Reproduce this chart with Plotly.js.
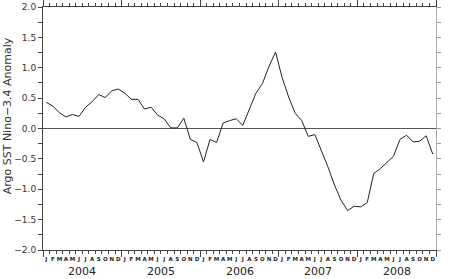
<!DOCTYPE html>
<html>
<head>
<meta charset="utf-8">
<script src="https://cdn.plot.ly/plotly-3.0.1.min.js"></script>
<style>
  html, body { margin: 0; padding: 0; background: #fff; }
  #chart { width: 450px; height: 279px; }
</style>
</head>
<body>
<div id="chart"></div>
<script>
// Monthly Argo SST Nino-3.4 anomaly, Jan 2004 – Dec 2008
const years = ["2004", "2005", "2006", "2007", "2008"];
const monthLetters = ["J","F","M","A","M","J","J","A","S","O","N","D"];
const yTitle = "Argo SST Nino\u22123.4 Anomaly";
const anomaly2004 = [0.43, 0.37, 0.26, 0.19, 0.23, 0.20, 0.35, 0.44, 0.56, 0.51, 0.62, 0.65];
const anomaly2005 = [0.58, 0.48, 0.48, 0.32, 0.35, 0.22, 0.16, 0.01, 0.01, 0.17, -0.18, -0.23];
const anomaly2006 = [-0.55, -0.18, -0.23, 0.09, 0.13, 0.16, 0.05, 0.30, 0.58, 0.74, 1.02, 1.26];
const anomaly2007 = [0.84, 0.52, 0.25, 0.13, -0.13, -0.10, -0.35, -0.63, -0.93, -1.18, -1.35, -1.28];
const anomaly2008 = [-1.29, -1.22, -0.74, -0.66, -0.56, -0.46, -0.18, -0.11, -0.22, -0.21, -0.12, -0.42];

const anomaly = [].concat(anomaly2004, anomaly2005, anomaly2006, anomaly2007, anomaly2008);
const monthIndex = anomaly.map((_, i) => i);
const tickText = [];
years.forEach(() => monthLetters.forEach(m => tickText.push(m)));
const yearCentres = years.map((_, k) => k * 12 + 5.5);
const yearBounds = [];
for (let k = 0; k <= years.length; k++) yearBounds.push(k * 12 - 0.5);

const FONT = "DejaVu Sans, Verdana, sans-serif";
const AX = "#444";

const traces = [
  { x: monthIndex, y: anomaly, type: "scatter", mode: "lines",
    line: { color: "#222", width: 1 }, hoverinfo: "skip", showlegend: false },
  { x: monthIndex, y: anomaly, xaxis: "x2", yaxis: "y2", type: "scatter", mode: "lines",
    line: { color: "rgba(0,0,0,0)", width: 0 }, hoverinfo: "skip", showlegend: false }
];

const xr = [-0.5, monthIndex.length - 0.5];
const annotations = years.map((yr, k) => ({
  x: yearCentres[k], xref: "x", y: 0, yref: "paper", yshift: -13,
  text: yr, showarrow: false, yanchor: "top",
  font: { size: 11, family: FONT, color: "#222" }
}));
annotations.push({
  x: 0, xref: "paper", xshift: -36, y: 0.55, yref: "paper",
  text: yTitle, textangle: -90, showarrow: false,
  xanchor: "center", yanchor: "middle",
  font: { size: 11, family: FONT, color: "#333" }
});

const layout = {
  width: 450, height: 279,
  margin: { l: 43, r: 14, t: 7, b: 29 },
  paper_bgcolor: "#fff", plot_bgcolor: "#fff",
  font: { family: FONT, color: "#333" },
  showlegend: false,
  xaxis: {
    range: xr, showgrid: false, zeroline: false,
    showline: true, linecolor: AX, linewidth: 1, mirror: "ticks",
    tickmode: "array", tickvals: monthIndex, ticktext: tickText, tickangle: 0,
    ticks: "", ticklabelstandoff: 3,
    tickfont: { size: 5.5, family: FONT, color: "#222", weight: "bold" },
    minor: { tickmode: "linear", tick0: -0.5, dtick: 1, ticks: "outside", ticklen: 3, tickcolor: AX, tickwidth: 1 }
  },
  xaxis2: {
    overlaying: "x", range: xr, showgrid: false, zeroline: false, showline: false,
    tickmode: "array", tickvals: yearBounds, ticks: "outside", ticklen: 6, tickcolor: AX,
    showticklabels: false, mirror: "ticks", side: "bottom"
  },
  yaxis: {
    range: [-2, 2], showgrid: false,
    zeroline: true, zerolinecolor: "#555", zerolinewidth: 1,
    showline: true, linecolor: AX, linewidth: 1,
    tickmode: "linear", tick0: -2, dtick: 0.5, tickformat: ".1f",
    ticks: "outside", ticklen: 4, tickcolor: AX,
    tickfont: { size: 9, family: FONT, color: "#333" },
    minor: { tickmode: "linear", tick0: -2, dtick: 0.25, ticks: "outside", ticklen: 4, tickcolor: AX }
  },
  yaxis2: {
    overlaying: "y", side: "right", range: [-2, 2], showgrid: false, zeroline: false,
    showline: true, linecolor: "#aaa", linewidth: 1,
    tickmode: "linear", tick0: -2, dtick: 0.25, ticks: "outside", ticklen: 4, tickcolor: "#999",
    showticklabels: false
  },
  annotations: annotations
};

Plotly.newPlot("chart", traces, layout, { staticPlot: true, displayModeBar: false });
</script>
</body>
</html>
